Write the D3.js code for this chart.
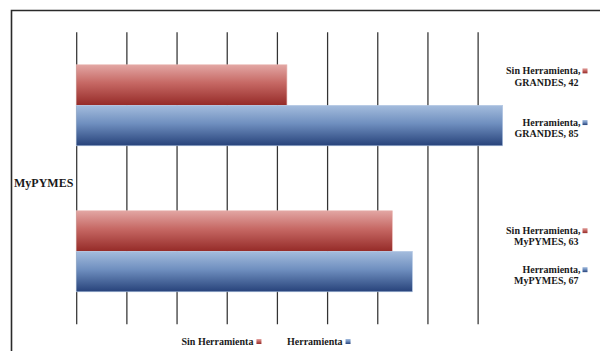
<!DOCTYPE html>
<html>
<head>
<meta charset="utf-8">
<script src="https://cdn.jsdelivr.net/npm/d3@7"></script>
<style>
  html, body { margin: 0; padding: 0; background: #fff; }
  svg { display: block; }
  text { font-family: "Liberation Serif", "Times New Roman", serif; font-weight: bold; fill: #1a1a1a; }
</style>
</head>
<body>
<svg id="chart" width="600" height="351"></svg>
<script>
// Categories top to bottom, and the two series drawn inside each category
const categories = ["GRANDES", "MyPYMES"];
const seriesNames = ["Sin Herramienta", "Herramienta"];
const sinHerramienta = [42, 63];
const herramienta = [85, 67];
const xTicks = [0, 10, 20, 30, 40, 50, 60, 70, 80];
const axisTitle = "MyPYMES";

const seriesValues = [sinHerramienta, herramienta];
const rows = categories.flatMap((c, ci) =>
  seriesNames.map((s, si) => ({ category: c, series: s, si, value: seriesValues[si][ci] })));

const svg = d3.select("#chart");
const W = 600, H = 351;

// Plot area
const plot = { left: 76.2, right: 527.8, top: 32.3, bottom: 324.3 };

const x = d3.scaleLinear().domain([0, 90]).range([plot.left, plot.right]);
const y0 = d3.scaleBand().domain(categories)
  .range([plot.top, plot.bottom]).paddingInner(0.445).paddingOuter(0.2225);
const y1 = d3.scaleBand().domain(seriesNames).range([0, y0.bandwidth()]);

// Gradients for each series
const defs = svg.append("defs");
const gradStops = [
  [["0%", "#e2a6a3"], ["45%", "#c66864"], ["100%", "#952b28"]],
  [["0%", "#a4bcdd"], ["45%", "#6f8fbf"], ["100%", "#27427a"]]
];
const gradIds = ["gSin", "gHer"];
gradStops.forEach((stops, i) => {
  const g = defs.append("linearGradient").attr("id", gradIds[i])
    .attr("x1", 0).attr("y1", 0).attr("x2", 0).attr("y2", 1);
  stops.forEach(([o, c]) => g.append("stop").attr("offset", o).attr("stop-color", c));
});
const edgeColors = ["#e9b7b4", "#b4c8e4"];

// Outer frame (runs off the right and bottom edges)
svg.append("path")
  .attr("d", `M11.5,${H + 5}V10.5H${W + 5}`)
  .attr("fill", "none").attr("stroke", "#2a2a2a").attr("stroke-width", 1.6);

// Vertical gridlines
svg.append("g")
  .attr("transform", `translate(0,${plot.bottom})`)
  .call(d3.axisBottom(x).tickValues(xTicks).tickSize(plot.bottom - plot.top).tickFormat(""))
  .call(g => g.select(".domain").remove())
  .call(g => g.selectAll(".tick line")
    .attr("y2", -(plot.bottom - plot.top))
    .attr("stroke", "#333").attr("stroke-width", 1.25));

// Bars
svg.append("g").selectAll("rect").data(rows).join("rect")
  .attr("x", x(0))
  .attr("y", d => y0(d.category) + y1(d.series))
  .attr("width", d => x(d.value) - x(0))
  .attr("height", y1.bandwidth())
  .attr("fill", d => `url(#${gradIds[d.si]})`)
  .attr("stroke", d => edgeColors[d.si]).attr("stroke-width", 0.6);

// Axis title on the left
svg.append("text")
  .attr("x", 14).attr("y", 186.5)
  .attr("font-size", 12)
  .text(axisTitle);

// Data labels at the right, each with its series key; small vertical nudges
// keep the label blocks clear of each other
const labelRight = 580.5;
const labelNudge = [-8.5, 2.7, 5.3, 3.8];
const lab = svg.append("g").selectAll("g").data(rows).join("g")
  .attr("transform", (d, i) =>
    `translate(${labelRight},${y0(d.category) + y1(d.series) + y1.bandwidth() / 2 + labelNudge[i]})`);
lab.append("text")
  .attr("text-anchor", "end").attr("font-size", 10)
  .attr("y", -2.2)
  .text(d => `${d.series},`);
lab.append("text")
  .attr("text-anchor", "end").attr("font-size", 10)
  .attr("x", -2).attr("y", 9.1)
  .text(d => `${d.category}, ${d.value}`);
lab.append("rect")
  .attr("x", 2).attr("y", -8.2).attr("width", 5).attr("height", 5)
  .attr("fill", d => `url(#${gradIds[d.si]})`);

// Legend at the bottom
const legendX = [181.5, 287];
const leg = svg.append("g").selectAll("g").data(seriesNames).join("g")
  .attr("transform", (d, i) => `translate(${legendX[i]},345)`);
leg.append("text")
  .attr("font-size", 10)
  .text(d => d)
  .each(function (d, i) {
    const w = this.getComputedTextLength();
    d3.select(this.parentNode).append("rect")
      .attr("x", w + 3).attr("y", -6).attr("width", 5).attr("height", 5)
      .attr("fill", `url(#${gradIds[i]})`);
  });
</script>
</body>
</html>
